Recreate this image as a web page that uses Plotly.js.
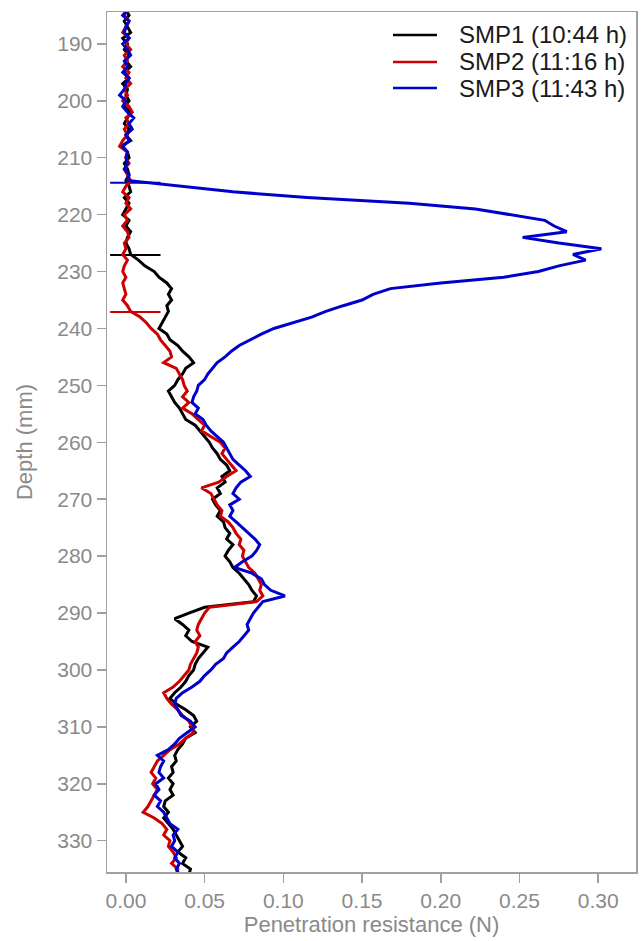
<!DOCTYPE html>
<html>
<head>
<meta charset="utf-8">
<script src="https://cdn.plot.ly/plotly-3.0.1.min.js"></script>
<style>html,body{margin:0;padding:0;background:#fff;}#chart{width:641px;height:941px;}</style>
</head>
<body>
<div id="chart"></div>
<script>
// Depth (mm), shared by the three profiles
const depth = [184,185,186,187,188,189,190,191,192,193,194,195,196,197,198,199,200,201,202,203,204,205,206,207,208,209,210,211,212,213,214,215,216,217,218,219,220,221,222,223,224,225,226,227,228,229,230,231,232,233,234,235,236,237,238,239,240,241,242,243,244,245,246,247,248,249,250,251,252,253,254,255,256,257,258,259,260,261,262,263,264,265,266,267,268,269,270,271,272,273,274,275,276,277,278,279,280,281,282,283,284,285,286,287,288,289,290,291,292,293,294,295,296,297,298,299,300,301,302,303,304,305,306,307,308,309,310,311,312,313,314,315,316,317,318,319,320,321,322,323,324,325,326,327,328,329,330,331,332,333,334,335,336];

// SMP1 (10:44 h) penetration resistance (N)
const smp1 = [0.000,0.002,-0.001,0.001,0.003,-0.002,0.001,-0.001,0.002,0.000,0.003,-0.001,0.002,-0.002,0.001,0.000,0.002,-0.001,0.003,0.001,-0.001,0.002,0.000,0.003,-0.003,0.001,0.002,-0.001,0.001,0.002,0.000,0.002,0.003,-0.001,0.002,0.000,-0.002,0.002,0.000,0.003,0.001,0.000,0.002,0.003,
0.008,0.012,0.018,0.021,0.026,0.029,0.027,0.029,0.026,0.027,0.025,0.023,0.021,0.026,0.028,0.033,0.036,0.040,0.043,0.038,0.036,0.033,0.031,0.027,0.029,0.031,0.034,0.036,0.038,0.044,0.047,0.050,0.053,0.055,0.058,0.060,0.064,0.066,0.061,0.063,0.058,0.060,0.055,0.057,0.060,0.058,0.062,0.063,0.066,0.064,0.068,0.065,0.063,0.066,0.068,0.072,0.075,0.078,0.080,0.083,0.081,
0.050,0.040,0.031,0.036,0.040,0.038,0.042,0.052,0.049,0.046,0.044,0.043,0.040,0.038,0.035,0.031,0.028,0.032,0.038,0.043,0.045,0.041,0.044,0.038,0.036,0.033,0.031,0.032,0.029,0.030,0.027,0.030,0.028,0.030,0.025,0.024,0.027,0.024,0.027,0.030,0.032,0.034,0.036,0.033,0.038,0.036,0.041,0.040];

// SMP2 (11:16 h)
const smp2 = [0.001,-0.001,0.002,0.000,-0.002,0.002,0.000,0.003,-0.001,0.001,-0.002,0.002,0.000,0.003,-0.001,0.001,-0.002,0.002,0.004,0.000,0.002,-0.001,0.001,-0.002,-0.004,0.001,0.000,0.002,-0.001,0.001,0.003,0.000,-0.002,0.002,0.000,0.003,-0.001,0.001,-0.002,0.001,0.002,-0.001,0.000,-0.002,0.001,-0.001,-0.002,0.000,-0.002,-0.001,0.000,-0.002,0.001,0.003,
0.009,0.013,0.016,0.020,0.022,0.025,0.028,0.029,0.024,0.032,0.034,0.036,0.037,0.039,0.036,0.040,0.036,0.042,0.046,0.050,0.048,0.054,0.060,0.063,0.061,0.064,0.067,0.070,0.064,0.059,0.048,0.054,0.056,0.058,0.061,0.060,0.065,0.068,0.070,0.073,0.072,0.075,0.074,0.076,0.078,0.082,0.084,0.086,0.085,0.087,0.083,
0.053,0.050,0.048,0.046,0.045,0.047,0.044,0.046,0.045,0.043,0.041,0.040,0.037,0.034,0.030,0.024,0.026,0.029,0.033,0.036,0.040,0.042,0.043,0.038,0.034,0.028,0.024,0.020,0.018,0.016,0.019,0.017,0.020,0.018,0.016,0.014,0.011,0.018,0.023,0.026,0.024,0.028,0.027,0.030,0.032,0.029,0.033,0.032];

// SMP3 (11:43 h)
const smp3 = [0.001,-0.002,0.002,0.000,-0.001,0.002,-0.002,0.001,0.003,-0.001,0.001,-0.002,0.002,0.000,-0.001,-0.004,0.000,-0.002,0.001,0.005,0.002,0.004,0.000,0.002,-0.002,0.001,0.000,0.001,-0.001,0.002,0.001,
0.035,0.068,0.115,0.180,0.222,0.245,0.266,0.272,0.280,0.252,0.275,0.302,0.284,0.292,0.275,0.262,0.240,0.200,0.168,0.157,0.150,0.138,0.127,0.118,0.106,0.094,0.086,0.079,0.072,0.067,0.063,0.058,0.055,0.052,0.050,0.046,0.045,0.043,0.042,0.046,0.044,0.049,0.051,0.054,0.058,0.062,0.064,0.066,0.068,0.072,0.076,0.079,0.073,0.070,0.068,0.072,0.066,0.068,0.066,0.070,0.074,0.078,0.082,0.085,0.083,0.080,0.074,0.069,0.080,0.086,0.088,0.092,0.101,0.087,0.084,0.081,0.079,0.077,0.078,0.075,0.072,0.068,0.064,0.062,0.057,0.054,0.050,0.047,0.042,0.036,0.032,0.031,0.033,0.035,0.041,0.044,0.039,0.034,0.031,0.027,0.020,0.024,0.022,0.021,0.024,0.019,0.021,0.018,0.022,0.020,0.024,0.026,0.028,0.033,0.030,0.031,0.029,0.033,0.031,0.034,0.032,0.034];

// Start-of-measurement marks (horizontal ticks), one per profile
const startDepth = [227.1, 237.1, 214.4];
const startX = [-0.010, 0.022];

const names = ['SMP1 (10:44 h)', 'SMP2 (11:16 h)', 'SMP3 (11:43 h)'];
const colors = ['#000000', '#cc0000', '#0000cc'];
const series = [smp1, smp2, smp3];

const traces = [];
series.forEach((s, i) => {
  traces.push({
    x: startX, y: [startDepth[i], startDepth[i]], type: 'scatter', mode: 'lines',
    line: {color: colors[i], width: 2}, showlegend: false, hoverinfo: 'skip'
  });
});
series.forEach((s, i) => {
  traces.push({
    x: s, y: depth, type: 'scatter', mode: 'lines', name: names[i],
    line: {color: colors[i], width: 3}
  });
});

// Legend drawn as shapes + annotations (paper coordinates) to match row spacing
const legendRowY = [0.9733, 0.9419, 0.9116];
const shapes = [], annotations = [];
names.forEach((n, i) => {
  shapes.push({type: 'line', xref: 'paper', yref: 'paper', x0: 0.5406, x1: 0.6238,
               y0: legendRowY[i], y1: legendRowY[i], line: {color: colors[i], width: 2.5}});
  annotations.push({xref: 'paper', yref: 'paper', x: 0.6616, y: legendRowY[i],
                    xanchor: 'left', yanchor: 'middle', showarrow: false, text: n,
                    font: {size: 24, color: '#1a1a1a'}});
});

const grey = '#8a8a8a';
const layout = {
  width: 641, height: 941,
  margin: {l: 107, r: 5, t: 12, b: 69},
  paper_bgcolor: '#ffffff', plot_bgcolor: '#ffffff',
  font: {family: 'Liberation Sans, Arial, sans-serif', color: grey, size: 21},
  showlegend: false,
  shapes: shapes, annotations: annotations,
  xaxis: {
    range: [-0.012, 0.324], tickvals: [0, 0.05, 0.10, 0.15, 0.20, 0.25, 0.30],
    tickformat: '.2f', ticks: 'outside', ticklen: 9, tickcolor: '#a0a0a0', tickwidth: 1.5,
    showline: true, linecolor: '#a0a0a0', linewidth: 1.5, mirror: true,
    showgrid: false, zeroline: false,
    tickfont: {size: 21, color: grey},
    title: {text: 'Penetration resistance (N)', font: {size: 22, color: grey}, standoff: 5}
  },
  yaxis: {
    range: [335.5, 184.4], tickvals: [190,200,210,220,230,240,250,260,270,280,290,300,310,320,330],
    ticks: 'outside', ticklen: 9, tickcolor: '#a0a0a0', tickwidth: 1.5,
    showline: true, linecolor: '#a0a0a0', linewidth: 1.5, mirror: true,
    showgrid: false, zeroline: false,
    tickfont: {size: 21, color: grey},
    title: {text: 'Depth (mm)', font: {size: 22, color: grey}, standoff: 18}
  }
};

Plotly.newPlot('chart', traces, layout, {displayModeBar: false, staticPlot: true});
</script>
</body>
</html>
